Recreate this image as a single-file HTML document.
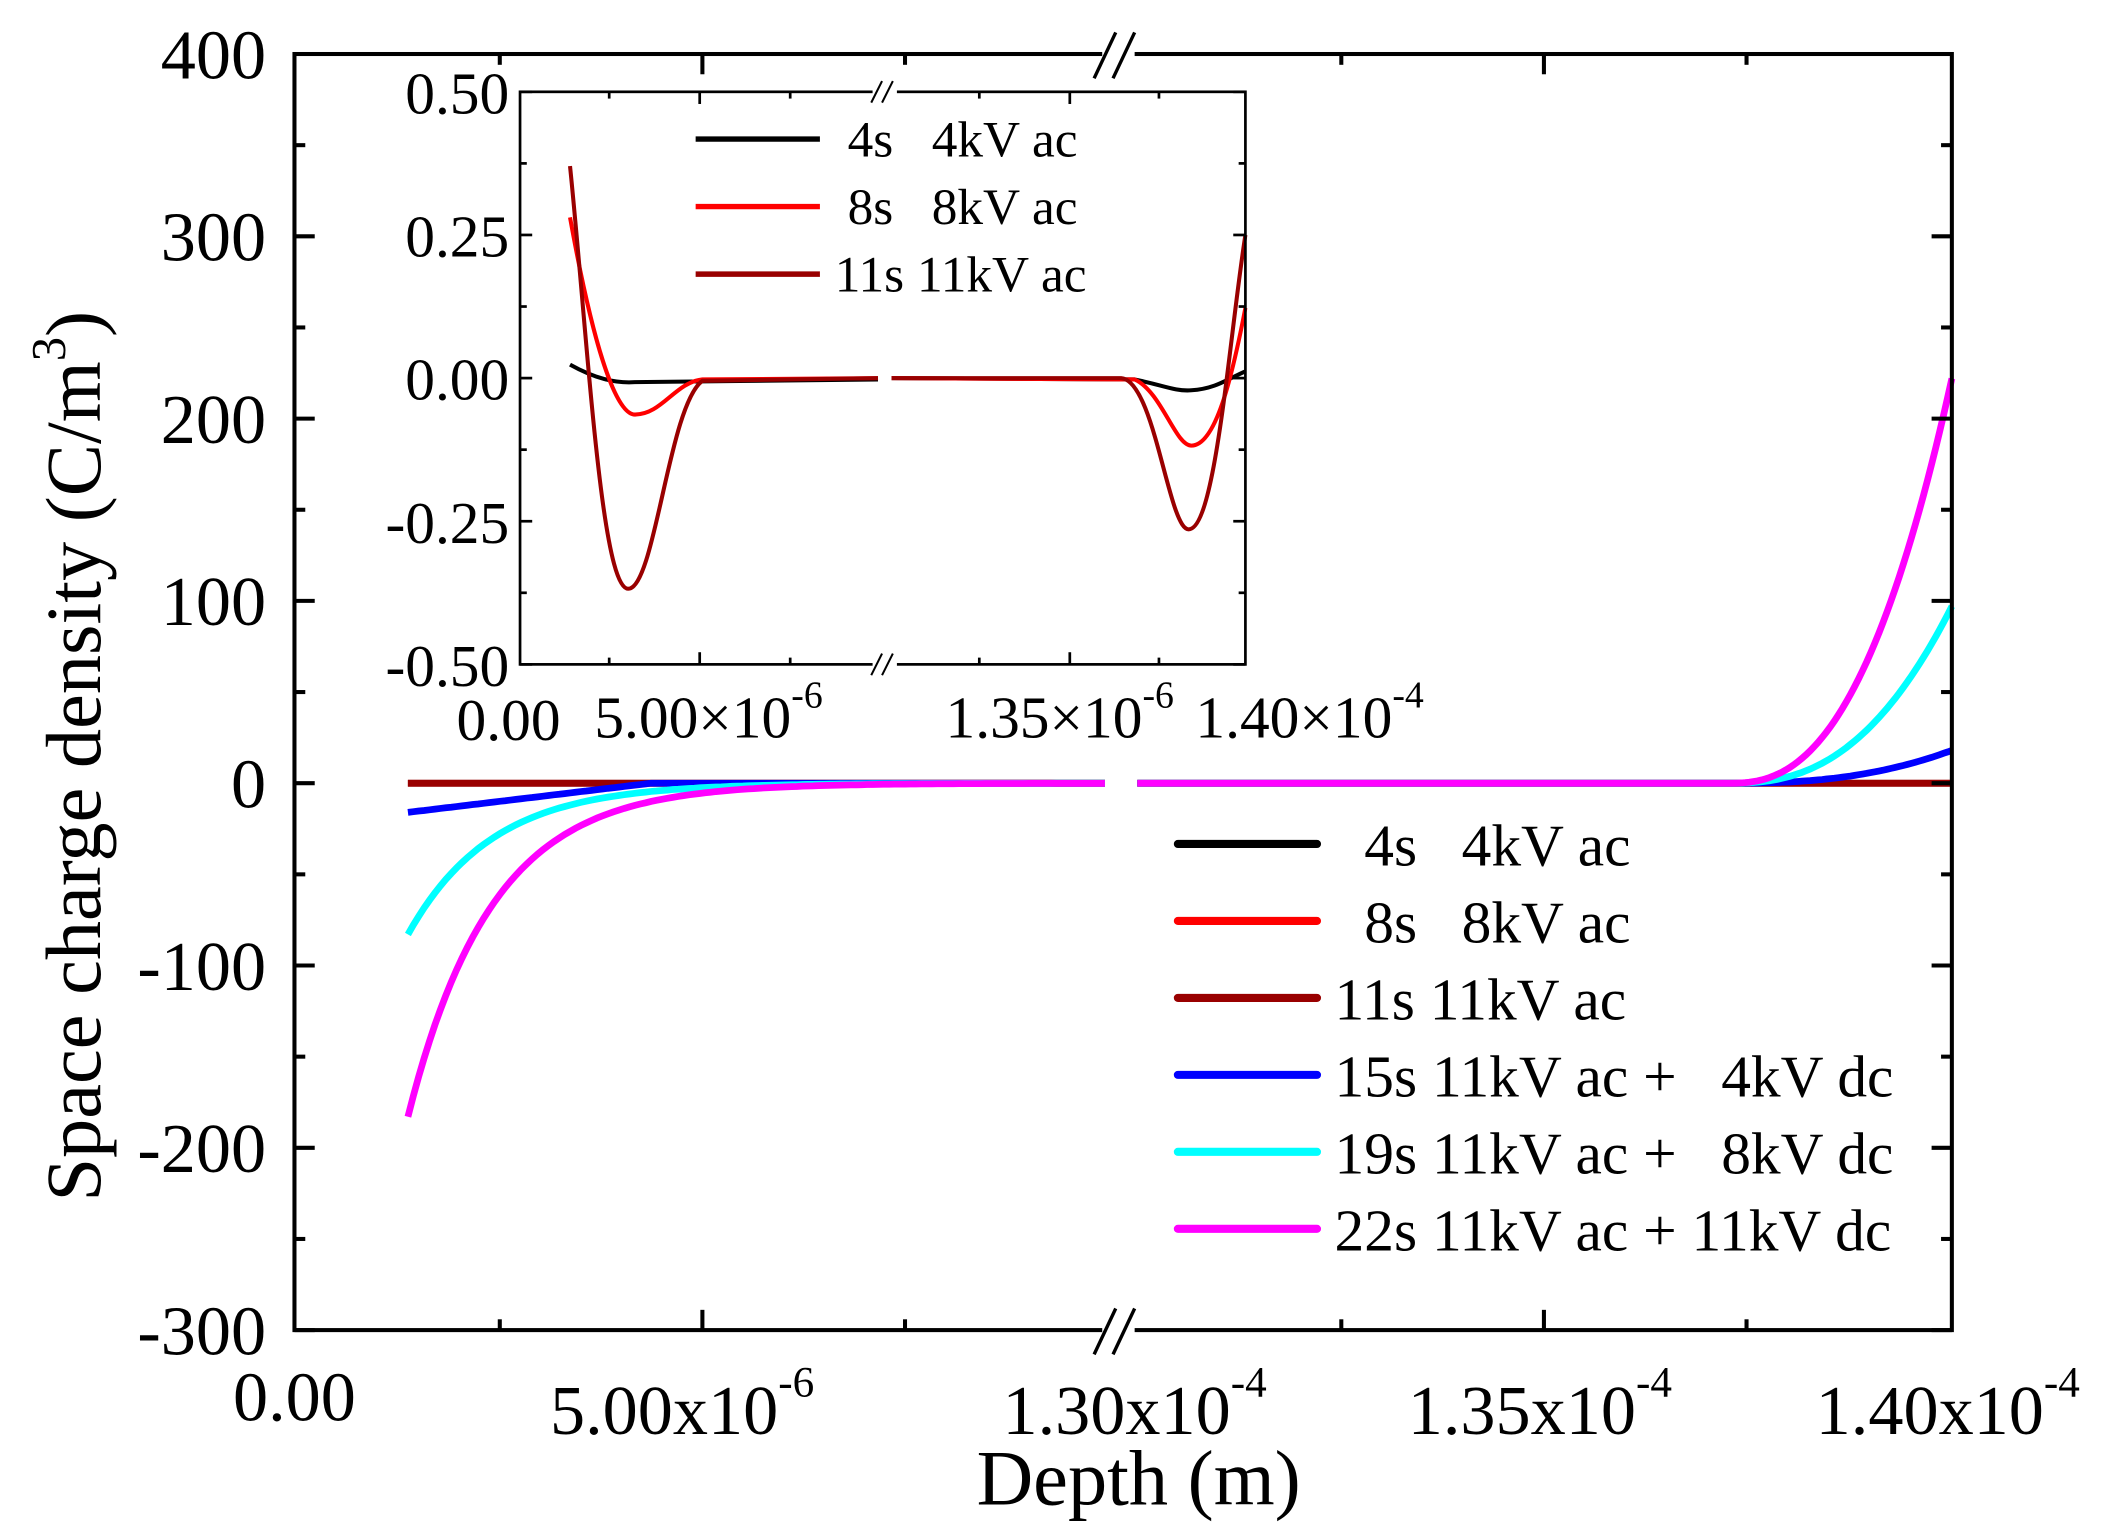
<!DOCTYPE html>
<html><head><meta charset="utf-8"><style>
html,body{margin:0;padding:0;background:#fff;}
svg{display:block;}
text{font-family:"Liberation Serif",serif;fill:#000;}
</style></head><body>
<svg id="s" width="2118" height="1534" viewBox="0 0 1568 1136" preserveAspectRatio="none" xmlns="http://www.w3.org/2000/svg">
<rect width="1568" height="1136" fill="#fff"/>
<g id="main"></g>
<rect x="218" y="40" width="1227" height="945" fill="none" stroke="#000" stroke-width="3"/>
<rect x="816" y="30" width="24" height="20" fill="#fff"/>
<rect x="816" y="975" width="24" height="20" fill="#fff"/>
<path d="M810,58 L826,24 M824,58 L840,24 M810,1003 L826,969 M824,1003 L840,969" stroke="#000" stroke-width="2.5"/>
<g id="ticks" stroke="#000" stroke-width="3"></g>
<g font-size="52" text-anchor="end">
<text x="197" y="58">400</text><text x="197" y="193">300</text><text x="197" y="328">200</text>
<text x="197" y="463">100</text><text x="197" y="598">0</text><text x="197" y="733">-100</text>
<text x="197" y="868">-200</text><text x="197" y="1003">-300</text>
</g>
<g font-size="52" text-anchor="middle">
<text x="218" y="1052">0.00</text>
<text x="505" y="1062">5.00x10<tspan font-size="32" dy="-28">-6</tspan></text>
<text x="840" y="1062">1.30x10<tspan font-size="32" dy="-28">-4</tspan></text>
<text x="1140" y="1062">1.35x10<tspan font-size="32" dy="-28">-4</tspan></text>
<text x="1442" y="1062">1.40x10<tspan font-size="32" dy="-28">-4</tspan></text>
<text x="843" y="1114" font-size="58">Depth (m)</text>
</g>
<text transform="translate(74,560) rotate(-90)" font-size="58" text-anchor="middle">Space charge density (C/m<tspan font-size="36" dy="-26">3</tspan><tspan dy="26">)</tspan></text>
<g stroke-width="6" stroke-linecap="round">
<line x1="872" y1="625" x2="975" y2="625" stroke="#000"/>
<line x1="872" y1="682" x2="975" y2="682" stroke="#f00"/>
<line x1="872" y1="739" x2="975" y2="739" stroke="#990000"/>
<line x1="872" y1="796" x2="975" y2="796" stroke="#0000ff"/>
<line x1="872" y1="853" x2="975" y2="853" stroke="#00ffff"/>
<line x1="872" y1="910" x2="975" y2="910" stroke="#ff00ff"/>
</g>
<g font-size="44">
<text x="988" y="641">&#160;&#160;4s&#160;&#160;&#160;4kV ac</text>
<text x="988" y="698">&#160;&#160;8s&#160;&#160;&#160;8kV ac</text>
<text x="988" y="755">11s 11kV ac</text>
<text x="988" y="812">15s 11kV ac +&#160;&#160;&#160;4kV dc</text>
<text x="988" y="869">19s 11kV ac +&#160;&#160;&#160;8kV dc</text>
<text x="988" y="926">22s 11kV ac + 11kV dc</text>
</g>
<rect x="385" y="68" width="537" height="424" fill="#fff"/>
<g fill="none" stroke-width="3">
<path d="M422,270 C440,280 455,284 470,283 L650,281" stroke="#000"/>
<path d="M660,280 L840,281 C860,285 870,290 882,289 C900,288 910,280 922,275" stroke="#000"/>
<path d="M422,161 C438,250 455,307 470,307 C490,307 500,283 520,281 L650,280" stroke="#f00"/>
<path d="M660,280 L840,281 C860,290 870,330 882,330 C900,330 912,280 922,228" stroke="#f00"/>
<path d="M422,123 C435,250 445,436 465,436 C485,436 495,300 520,282 L650,280" stroke="#990000"/>
<path d="M660,280 L830,280 C855,282 865,392 880,392 C900,392 910,250 922,174" stroke="#990000"/>
</g>
<rect x="385" y="68" width="537" height="424" fill="none" stroke="#000" stroke-width="2"/>
<rect x="646" y="62" width="18" height="12" fill="#fff"/>
<rect x="646" y="486" width="18" height="12" fill="#fff"/>
<path d="M645,76 L653,60 M653,76 L661,60 M645,500 L653,484 M653,500 L661,484" stroke="#000" stroke-width="1.5"/>
<g id="iticks" stroke="#000" stroke-width="2"></g>
<g font-size="44" text-anchor="end">
<text x="377" y="84">0.50</text><text x="377" y="190">0.25</text><text x="377" y="296">0.00</text>
<text x="377" y="402">-0.25</text><text x="377" y="508">-0.50</text>
</g>
<g font-size="44">
<text x="338" y="548">0.00</text>
<text x="440" y="546">5.00×10<tspan font-size="28" dy="-22">-6</tspan></text>
<text x="700" y="546">1.35×10<tspan font-size="28" dy="-22">-6</tspan></text>
<text x="885" y="546">1.40×10<tspan font-size="28" dy="-22">-4</tspan></text>
</g>
<g stroke-width="4">
<line x1="515" y1="103" x2="607" y2="103" stroke="#000"/>
<line x1="515" y1="153" x2="607" y2="153" stroke="#f00"/>
<line x1="515" y1="203" x2="607" y2="203" stroke="#990000"/>
</g>
<g font-size="38">
<text x="618" y="116">&#160;4s&#160;&#160;&#160;4kV ac</text>
<text x="618" y="166">&#160;8s&#160;&#160;&#160;8kV ac</text>
<text x="618" y="216">11s 11kV ac</text>
</g>
</svg>
<script>
var NS="http://www.w3.org/2000/svg";
function el(p,t,a){var e=document.createElementNS(NS,t);for(var k in a)e.setAttribute(k,a[k]);p.appendChild(e);return e;}
var g=document.getElementById("main");
function Y(v){return 580-v*1.35;}
function series(col,L,R,k,lin){
  var d="";
  for(var x=302;x<=818;x+=4){var v=lin?Math.min(0,L*(1-(x-302)/180)):L*Math.exp(-(x-302)/k);d+=(x==302?"M":"L")+x+","+Y(v).toFixed(1);}
  el(g,"path",{d:d,fill:"none",stroke:col,"stroke-width":5});
  d="";
  for(var x=842;x<=1445;x+=3){var u=Math.max(0,(x-1280)/165);var v=R*Math.pow(u,2.5);d+=(x==842?"M":"L")+x+","+Y(v).toFixed(1);}
  el(g,"path",{d:d,fill:"none",stroke:col,"stroke-width":5});
}
series("#000",0,0,60);series("#f00",0,0,60);series("#990000",0,0,60);
series("#0000ff",-16,18,60,true);
series("#00ffff",-83,97,62);
series("#ff00ff",-183,222,62);
var t=document.getElementById("ticks");
for(var i=0;i<=14;i++){var y=40+i*67.5,len=i%2?8:15;
 el(t,"line",{x1:218,y1:y,x2:218+len,y2:y});el(t,"line",{x1:1445,y1:y,x2:1445-len,y2:y});}
[[370,8],[520,15],[670,8],[993,8],[1143,15],[1293,8]].forEach(function(a){
 el(t,"line",{x1:a[0],y1:985,x2:a[0],y2:985-a[1]});el(t,"line",{x1:a[0],y1:40,x2:a[0],y2:40+a[1]});});
var it=document.getElementById("iticks");
for(var i=0;i<=8;i++){var y=68+i*53,len=i%2?5:9;
 el(it,"line",{x1:385,y1:y,x2:385+len,y2:y});el(it,"line",{x1:922,y1:y,x2:922-len,y2:y});}
[[451,5],[518,9],[585,5],[725,5],[792,9],[858,5]].forEach(function(a){
 el(it,"line",{x1:a[0],y1:492,x2:a[0],y2:492-a[1]});el(it,"line",{x1:a[0],y1:68,x2:a[0],y2:68+a[1]});});
</script>
</body></html>
